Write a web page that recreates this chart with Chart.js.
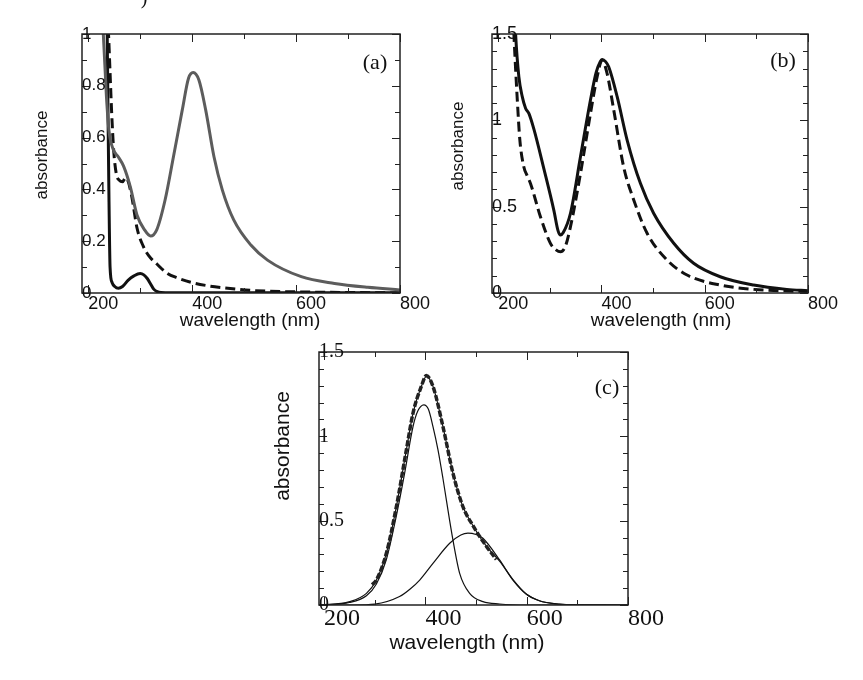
<!DOCTYPE html>
<html>
<head>
<meta charset="utf-8">
<script src="https://cdn.jsdelivr.net/npm/chart.js@4.4.1/dist/chart.umd.min.js"></script>
<style>
  html, body { margin: 0; padding: 0; background: #fff; }
  #wrap { position: relative; width: 863px; height: 680px; }
  canvas { position: absolute; left: 0; top: 0; }
</style>
</head>
<body>
<div id="wrap">
  <canvas id="chart-a" width="863" height="680"></canvas>
  <canvas id="chart-b" width="863" height="680"></canvas>
  <canvas id="chart-c" width="863" height="680"></canvas>
</div>
<script>
// ---- panel (a) ----
const aGrayX = [226, 229, 235, 240, 248, 258, 268, 281, 294, 308, 320, 332, 348, 364, 381, 393, 402, 413, 426, 442, 458, 480, 513, 545, 610, 674, 738, 800];
const aGrayY = [1.08, 1.0, 0.76, 0.625, 0.555, 0.525, 0.49, 0.41, 0.30, 0.245, 0.22, 0.245, 0.36, 0.526, 0.707, 0.829, 0.851, 0.822, 0.707, 0.526, 0.398, 0.282, 0.185, 0.127, 0.063, 0.037, 0.022, 0.012];
const aDashX = [236, 239, 242, 245, 249, 254, 260, 266, 272, 277, 284, 294, 306, 316, 332, 352, 372, 400, 430, 461, 513, 610, 700, 800];
const aDashY = [1.08, 1.0, 0.85, 0.70, 0.55, 0.46, 0.435, 0.43, 0.445, 0.43, 0.37, 0.25, 0.18, 0.145, 0.112, 0.076, 0.058, 0.04, 0.028, 0.02, 0.01, 0.004, 0.002, 0.0];
const aSolidX = [235, 236.5, 238, 240, 242, 246, 251, 258, 266, 277, 288, 300, 307, 314, 320, 326, 333, 340, 360, 400, 500, 600, 700, 800];
const aSolidY = [1.1, 1.0, 0.7, 0.35, 0.10, 0.04, 0.025, 0.018, 0.025, 0.05, 0.066, 0.075, 0.07, 0.055, 0.035, 0.015, 0.005, 0.002, 0.001, 0.001, 0.001, 0.001, 0.001, 0.001];

// ---- panel (b) ----
const bSolidX = [233, 233.7, 240, 246.6, 253, 259.4, 269, 288.4, 307.7, 316, 320.7, 326, 340, 359.4, 378.7, 390, 401.3, 408, 414, 430.4, 449.7, 475.4, 501, 540, 578.5, 630, 694.6, 759, 800];
const bSolidY = [1.55, 1.5, 1.253, 1.137, 1.07, 1.04, 0.95, 0.72, 0.48, 0.36, 0.336, 0.35, 0.462, 0.79, 1.118, 1.28, 1.353, 1.34, 1.31, 1.137, 0.886, 0.635, 0.462, 0.288, 0.172, 0.094, 0.046, 0.021, 0.013];
const bDashX = [229, 230.4, 237, 242, 249.7, 256, 262.7, 282, 301.4, 312, 320.7, 330, 340, 359.4, 378.7, 391.7, 401.3, 411, 423.8, 443, 462.5, 488.4, 527, 565.8, 630, 694.6, 800];
const bDashY = [1.6, 1.5, 1.118, 0.884, 0.73, 0.68, 0.633, 0.44, 0.286, 0.25, 0.239, 0.27, 0.384, 0.693, 1.04, 1.253, 1.349, 1.27, 1.06, 0.73, 0.539, 0.346, 0.191, 0.104, 0.046, 0.021, 0.008];

// ---- panel (c) ----
const cMeasX = [295, 303.3, 323, 342.8, 362.5, 375.6, 392, 402, 415, 434.7, 454.4, 474, 494, 520, 540];
const cMeasY = [0.12, 0.148, 0.307, 0.584, 0.92, 1.138, 1.296, 1.36, 1.296, 1.058, 0.782, 0.584, 0.47, 0.35, 0.27];
const cFitX = [190, 250.7, 283.6, 303.3, 323, 342.8, 362.5, 375.6, 392, 402, 415, 434.7, 454.4, 474, 494, 520, 546.5, 573, 599, 625, 665, 700, 800];
const cFitY = [0, 0.02, 0.069, 0.148, 0.307, 0.584, 0.92, 1.138, 1.296, 1.355, 1.296, 1.058, 0.782, 0.584, 0.47, 0.35, 0.26, 0.15, 0.065, 0.025, 0.005, 0.001, 0];
const cPeak1X = [190, 250, 283.6, 303.3, 323, 342.8, 359, 375.6, 385, 397, 406, 415, 424.9, 434.7, 441.4, 454.4, 467.7, 487.4, 513.6, 546.5, 600, 800];
const cPeak1Y = [0, 0.015, 0.055, 0.125, 0.27, 0.53, 0.78, 1.058, 1.15, 1.187, 1.16, 1.058, 0.92, 0.75, 0.623, 0.386, 0.188, 0.069, 0.02, 0.006, 0, 0];
const cPeak2X = [190, 260, 300, 349, 370, 388.8, 415, 448, 470, 484, 500, 513.6, 546.5, 572.8, 599, 625, 660, 700, 800];
const cPeak2Y = [0, 0, 0.005, 0.05, 0.095, 0.148, 0.247, 0.366, 0.415, 0.426, 0.418, 0.396, 0.267, 0.148, 0.065, 0.025, 0.006, 0.001, 0];

// tick values
const xMajor = [200, 400, 600, 800];
const xMinor = [300, 500, 700];
const xLabels = ['200', '400', '600', '800'];
const aYMajor = [0, 0.2, 0.4, 0.6, 0.8, 1];
const aYMinor = [0.1, 0.3, 0.5, 0.7, 0.9];
const aYLabels = ['0', '0.2', '0.4', '0.6', '0.8', '1'];
const bcYMajor = [0, 0.5, 1, 1.5];
const bcYMinor = [0.1, 0.2, 0.3, 0.4, 0.6, 0.7, 0.8, 0.9, 1.1, 1.2, 1.3, 1.4];
const bcYLabels = ['0', '0.5', '1', '1.5'];

const SANS = "'Liberation Sans', Arial, sans-serif";
const SERIF = "'Liberation Serif', 'Times New Roman', serif";

const pts = (xs, ys) => xs.map((x, i) => ({ x, y: ys[i] }));

// frame with inward ticks on all four sides, tick labels and titles
const frameTicks = {
  id: 'frameTicks',
  afterDraw(chart, args, o) {
    const { ctx, chartArea: a, scales: { x, y } } = chart;
    ctx.save();
    ctx.strokeStyle = '#222';
    ctx.lineWidth = 1;
    ctx.beginPath();
    const xt = (v, len) => {
      const px = Math.round(x.getPixelForValue(v)) + 0.5;
      ctx.moveTo(px, a.top); ctx.lineTo(px, a.top + len);
      ctx.moveTo(px, a.bottom); ctx.lineTo(px, a.bottom - len);
    };
    const yt = (v, len) => {
      const py = Math.round(y.getPixelForValue(v)) + 0.5;
      ctx.moveTo(a.left, py); ctx.lineTo(a.left + len, py);
      ctx.moveTo(a.right, py); ctx.lineTo(a.right - len, py);
    };
    o.xMajor.forEach(v => xt(v, 8));
    o.xMinor.forEach(v => xt(v, 5));
    o.yMajor.forEach(v => yt(v, 8));
    o.yMinor.forEach(v => yt(v, 5));
    ctx.stroke();
    ctx.lineWidth = 1.5;
    ctx.strokeRect(a.left, a.top, a.right - a.left, a.bottom - a.top);

    ctx.fillStyle = '#111';
    // x tick labels, starting at the tick
    ctx.font = o.xFont;
    ctx.textAlign = 'left';
    ctx.textBaseline = 'alphabetic';
    o.xMajor.forEach((v, i) => ctx.fillText(o.xLabels[i], x.getPixelForValue(v), o.xLabelY));
    // y tick labels, starting at the axis line
    ctx.font = o.yFont;
    ctx.textBaseline = 'middle';
    o.yMajor.forEach((v, i) => ctx.fillText(o.yLabels[i], a.left, y.getPixelForValue(v)));

    // axis titles
    ctx.textAlign = 'center';
    ctx.font = o.xTitleFont;
    ctx.fillText('wavelength (nm)', o.xTitlePos[0], o.xTitlePos[1]);
    ctx.save();
    ctx.translate(o.yTitlePos[0], o.yTitlePos[1]);
    ctx.rotate(-Math.PI / 2);
    ctx.font = o.yTitleFont;
    ctx.fillText('absorbance', 0, 0);
    ctx.restore();

    // panel tag
    ctx.font = o.tagFont;
    ctx.fillText(o.tag, o.tagPos[0], o.tagPos[1]);
    if (o.extra) {
      ctx.font = o.extra.font;
      ctx.textBaseline = 'alphabetic';
      ctx.fillText(o.extra.text, o.extra.pos[0], o.extra.pos[1]);
    }
    ctx.restore();
  }
};

function line(xs, ys, color, width, dash) {
  return {
    data: pts(xs, ys),
    borderColor: color,
    borderWidth: width,
    borderDash: dash || [],
    pointRadius: 0,
    fill: false,
    cubicInterpolationMode: 'monotone'
  };
}

function makeChart(id, datasets, padding, xMin, yMax, tickOpts) {
  return new Chart(document.getElementById(id), {
    type: 'line',
    data: { datasets },
    options: {
      responsive: false,
      animation: false,
      devicePixelRatio: 1,
      events: [],
      layout: { padding },
      scales: {
        x: { type: 'linear', min: xMin, max: 800, display: false },
        y: { type: 'linear', min: 0, max: yMax, display: false }
      },
      plugins: {
        legend: { display: false },
        tooltip: { enabled: false },
        frameTicks: tickOpts
      }
    },
    plugins: [frameTicks]
  });
}

makeChart('chart-a', [
  line(aGrayX, aGrayY, '#5c5c5c', 3),
  line(aDashX, aDashY, '#111', 3, [10, 5]),
  line(aSolidX, aSolidY, '#111', 3)
], { left: 82, top: 34, right: 463, bottom: 387 }, 188, 1, {
  xMajor, xMinor, xLabels,
  yMajor: aYMajor, yMinor: aYMinor, yLabels: aYLabels,
  xFont: '18px ' + SANS, yFont: '17px ' + SANS, xLabelY: 309,
  xTitleFont: '19px ' + SANS, xTitlePos: [250, 321],
  yTitleFont: '17px ' + SANS, yTitlePos: [42, 155],
  tagFont: '22px ' + SERIF, tag: '(a)', tagPos: [375, 63],
  extra: { text: ')', font: '20px ' + SERIF, pos: [144, 4] }
});

makeChart('chart-b', [
  line(bSolidX, bSolidY, '#111', 3),
  line(bDashX, bDashY, '#111', 3, [10, 5])
], { left: 492, top: 34, right: 55, bottom: 387 }, 188, 1.5, {
  xMajor, xMinor, xLabels,
  yMajor: bcYMajor, yMinor: bcYMinor, yLabels: bcYLabels,
  xFont: '18px ' + SANS, yFont: '18px ' + SANS, xLabelY: 309,
  xTitleFont: '19px ' + SANS, xTitlePos: [661, 321],
  yTitleFont: '17px ' + SANS, yTitlePos: [458, 146],
  tagFont: '22px ' + SERIF, tag: '(b)', tagPos: [783, 61]
});

makeChart('chart-c', [
  line(cMeasX, cMeasY, '#222', 3.5, [6, 2]),
  line(cFitX, cFitY, '#111', 1.2),
  line(cPeak1X, cPeak1Y, '#111', 1.2),
  line(cPeak2X, cPeak2Y, '#111', 1.2)
], { left: 319, top: 352, right: 235, bottom: 75 }, 190, 1.5, {
  xMajor, xMinor, xLabels,
  yMajor: bcYMajor, yMinor: bcYMinor, yLabels: bcYLabels,
  xFont: '24px ' + SERIF, yFont: '20px ' + SERIF, xLabelY: 625,
  xTitleFont: '21px ' + SANS, xTitlePos: [467, 643],
  yTitleFont: '21px ' + SANS, yTitlePos: [283, 446],
  tagFont: '22px ' + SERIF, tag: '(c)', tagPos: [607, 388]
});
</script>
</body>
</html>
